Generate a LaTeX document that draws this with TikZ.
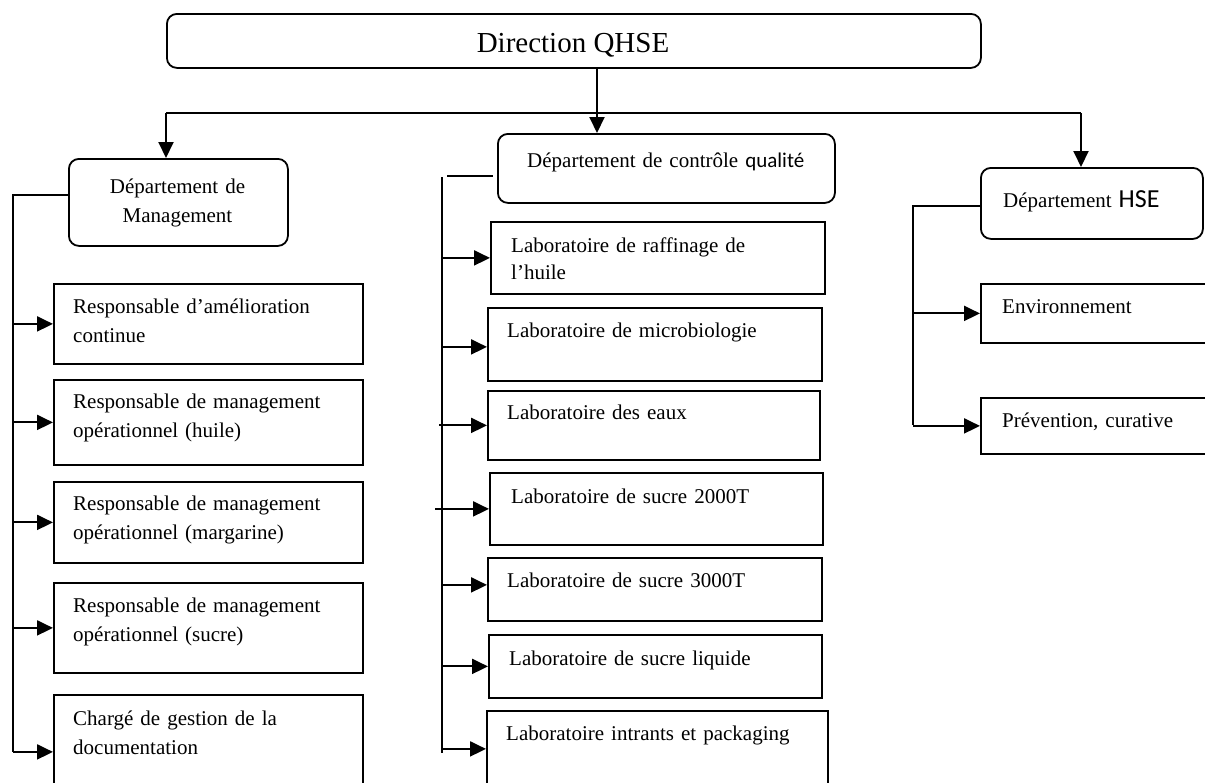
\documentclass[tikz,border=0pt]{standalone}
\usepackage{fontspec}
\setmainfont{Liberation Serif}
\newfontfamily\calibri{Carlito}
\usetikzlibrary{arrows.meta}

\tikzset{
  frame/.style={draw, line width=1.8pt, rectangle, inner sep=0pt, anchor=north west},
  roundframe/.style={frame, rounded corners=10pt},
  boxtext/.style={anchor=base west, inner sep=0pt, text width=320pt, align=left,
    font=\fontsize{21}{29}\selectfont},
  titletext/.style={anchor=base, inner sep=0pt, font=\fontsize{29}{34}\selectfont},
  link/.style={line width=2pt},
  arrowlink/.style={link, -{Triangle[length=16pt,width=15pt]}},
}

% box from its top-left and bottom-right corners
\newcommand\orgbox[6]{\node[#1, minimum width={#4-#2}, minimum height={#5-#3}] (#6) at (#2,#3) {};}

\begin{document}
\begin{tikzpicture}[x=1pt,y=-1pt]
\useasboundingbox (0,0) rectangle (1205,782);
\clip (0,0) rectangle (1205,782);

% --- head of the chart
\orgbox{roundframe}{166}{13}{980}{67}{dir}
\node[titletext] (dir text) at (573,52) {Direction QHSE};

% --- the three departments
\orgbox{roundframe}{68}{158}{287}{245}{mgmt}
\node[boxtext, text width=219pt, align=center, anchor=base] (mgmt text) at (177.5,193) {Département de\\Management};

\orgbox{roundframe}{497}{133}{834}{202}{cq}
\node[boxtext] (cq text) at (527,167) {Département de contrôle {\calibri qualité}};

\orgbox{roundframe}{980}{167}{1202}{238}{hse}
\node[boxtext] (hse text) at (1003,207) {Département {\calibri\fontsize{26}{30}\selectfont HSE}};

% --- management units
\orgbox{frame}{53}{283}{362}{363}{m1}
\node[boxtext] (m1 text) at (73,313) {Responsable d’amélioration\\continue};
\orgbox{frame}{53}{379}{362}{464}{m2}
\node[boxtext] (m2 text) at (73,408) {Responsable de management\\opérationnel (huile)};
\orgbox{frame}{53}{481}{362}{562}{m3}
\node[boxtext] (m3 text) at (73,510) {Responsable de management\\opérationnel (margarine)};
\orgbox{frame}{53}{582}{362}{672}{m4}
\node[boxtext] (m4 text) at (73,612) {Responsable de management\\opérationnel (sucre)};
\orgbox{frame}{53}{694}{362}{808}{m5}
\node[boxtext] (m5 text) at (73,725) {Chargé de gestion de la\\documentation};

% --- quality control laboratories
\orgbox{frame}{490}{221}{824}{293}{l1}
\node[boxtext, font=\fontsize{21}{27}\selectfont] (l1 text) at (511,252) {Laboratoire de raffinage de\\l’huile};
\orgbox{frame}{487}{307}{821}{380}{l2}
\node[boxtext] (l2 text) at (507,337) {Laboratoire de microbiologie};
\orgbox{frame}{487}{390}{819}{459}{l3}
\node[boxtext] (l3 text) at (507,419) {Laboratoire des eaux};
\orgbox{frame}{489}{472}{822}{544}{l4}
\node[boxtext] (l4 text) at (511,503) {Laboratoire de sucre 2000T};
\orgbox{frame}{487}{557}{821}{620}{l5}
\node[boxtext] (l5 text) at (507,587) {Laboratoire de sucre 3000T};
\orgbox{frame}{488}{634}{821}{697}{l6}
\node[boxtext] (l6 text) at (509,665) {Laboratoire de sucre liquide};
\orgbox{frame}{486}{710}{827}{786}{l7}
\node[boxtext] (l7 text) at (506,740) {Laboratoire intrants et packaging};

% --- HSE units
\orgbox{frame}{980}{283}{1215}{342}{h1}
\node[boxtext] (h1 text) at (1002,313) {Environnement};
\orgbox{frame}{980}{397}{1215}{453}{h2}
\node[boxtext] (h2 text) at (1002,427) {Prévention, curative};

% --- connectors from the head
\coordinate (split L) at (166,113);
\coordinate (split R) at (1081,113);
\draw[link] (split L) -- (split R);
\draw[arrowlink] (split L) -- (split L |- mgmt.north);
\draw[arrowlink] (split R) -- (split R |- hse.north);
\draw[arrowlink] (dir.south -| 597,0) -- (cq.north -| 597,0);

% --- management trunk
\coordinate (mtrunk) at (13,752);
\draw[link] (mgmt.west |- 0,195) -| (mtrunk);
\foreach \b in {m1,m2,m3,m4,m5}
  \draw[arrowlink] (mtrunk |- \b.west) -- (\b.west);

% --- quality control trunk
\coordinate (ctop) at (442,177);
\coordinate (cbot) at (442,753);
\coordinate (cstub) at (447,176);
\draw[link] (ctop) -- (cbot);
\draw[link] (cstub) -- ([xshift=-4pt]cq.west |- cstub);
\foreach \b in {l1,l6,l7}
  \draw[arrowlink] (ctop |- \b.west) -- (\b.west);
\draw[arrowlink] ([yshift=-2.5pt]ctop |- l2.west) -- ([yshift=-2.5pt]l2.west);
\draw[arrowlink] ([xshift=-3pt]ctop |- l3.west) -- (l3.west);
\draw[arrowlink] ([xshift=-7pt]ctop |- l4.west) -- (l4.west);
\draw[arrowlink] ([yshift=4.5pt]ctop |- l5.west) -- ([yshift=4.5pt]l5.west);

% --- HSE trunk
\coordinate (htrunk) at (913,425);
\draw[link] (hse.west |- 0,206) -| (htrunk);
\foreach \b in {h1,h2}
  \draw[arrowlink] (htrunk |- \b.west) -- (\b.west);
\end{tikzpicture}
\end{document}
